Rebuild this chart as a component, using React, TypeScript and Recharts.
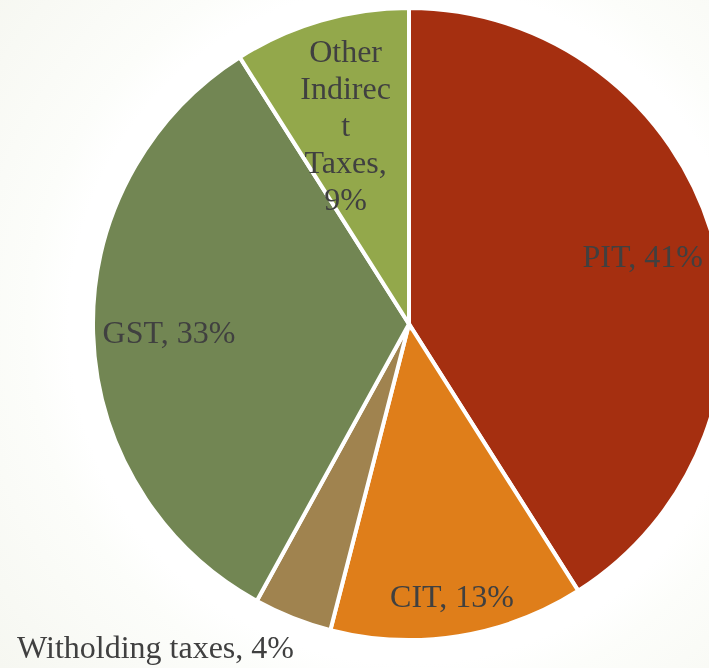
import { Cell, Pie, PieChart } from "recharts"

const categories = ["PIT", "CIT", "Witholding taxes", "GST", "Other Indirect Taxes"]
const shares = [41, 13, 4, 33, 9]
const colors = ["#a52f10", "#df7e1a", "#a0834f", "#728653", "#93a84b"]
// Excel wraps the narrow slice's label inside the wedge
const wrappedLines: Record<number, string[]> = { 4: ["Other", "Indirec", "t", "Taxes,", "9%"] }

const data = categories.map((name, i) => ({ name, value: shares[i] }))

const RAD = Math.PI / 180
// radius factor and angle nudge for each label (best-fit placement)
const labelRadius = [0.77, 0.87, 1.3, 0.76, 0.66]
const labelShift = [0, 0, -16.5, 0, 1.5]

const FONT = "'Liberation Serif', 'Times New Roman', serif"

function renderLabel(props: any) {
  const { cx, cy, midAngle, outerRadius, index, name, value } = props
  const a = (midAngle + labelShift[index]) * RAD
  const r = outerRadius * labelRadius[index]
  const x = cx + r * Math.cos(-a)
  const y = cy + r * Math.sin(-a)
  const lines = wrappedLines[index]
  if (lines) {
    const lh = 37
    const top = y - ((lines.length - 1) * lh) / 2
    return (
      <text textAnchor="middle" fill="#404040" fontFamily={FONT} fontSize={32} dominantBaseline="central">
        {lines.map((l, i) => (
          <tspan key={i} x={x} y={top + i * lh}>
            {l}
          </tspan>
        ))}
      </text>
    )
  }
  return (
    <text x={x} y={y} textAnchor="middle" dominantBaseline="central" fill="#404040" fontFamily={FONT} fontSize={32}>
      {`${name}, ${value}%`}
    </text>
  )
}

export default function App() {
  return (
    <div
      style={{
        position: "fixed",
        left: 0,
        top: 0,
        width: 709,
        height: 668,
        overflow: "hidden",
        background: "radial-gradient(circle at 409px 324px, #ffffff 0px, #ffffff 340px, #fcfdfa 380px, #f6f7f1 100%)",
      }}
    >
      <PieChart width={709} height={668} margin={{ top: 0, right: 0, bottom: 0, left: 0 }}>
        <Pie
          data={data}
          dataKey="value"
          nameKey="name"
          cx={409}
          cy={324}
          outerRadius={316}
          startAngle={90}
          endAngle={-270}
          stroke="#ffffff"
          strokeWidth={4}
          labelLine={false}
          label={renderLabel}
          isAnimationActive={false}
        >
          {data.map((d, i) => (
            <Cell key={d.name} fill={colors[i]} />
          ))}
        </Pie>
      </PieChart>
    </div>
  )
}
